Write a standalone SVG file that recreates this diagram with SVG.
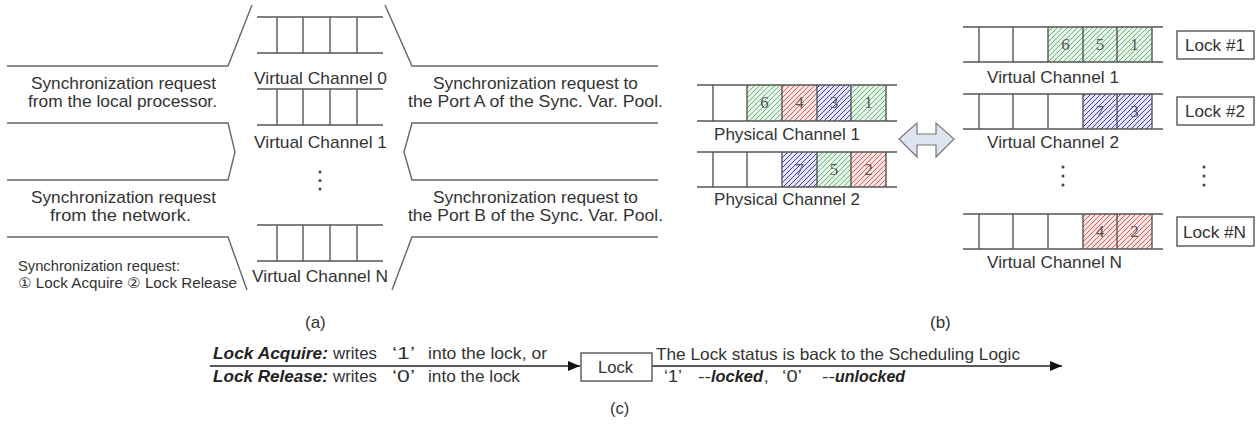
<svg xmlns="http://www.w3.org/2000/svg" width="1258" height="427" viewBox="0 0 1258 427">
<style>
text{font-family:"Liberation Sans",Arial,"DejaVu Sans",sans-serif;fill:#333;font-size:17px}
.sm{font-size:14.5px}
.c{font-size:16.5px}
.bi{font-weight:bold;font-style:italic;fill:#222}
.dg{font-family:"Liberation Serif","Times New Roman",serif;font-size:17px;fill:#555;text-anchor:middle}
.ln{fill:none;stroke:#666;stroke-width:1.4}
.q{stroke:#555;stroke-width:1.4;fill:none}
.box{fill:#fff;stroke:#555;stroke-width:1.4}
.ar{stroke:#222;stroke-width:1.3;fill:none}
.dot{fill:#444}
</style>
<defs>
<pattern id="hg" patternUnits="userSpaceOnUse" width="5" height="5"><rect width="5" height="5" fill="#eaf6ec"/><path d="M-1,1 l2,-2 M0,5 l5,-5 M4,6 l2,-2" stroke="#5fb870" stroke-width="1"/></pattern>
<pattern id="hr" patternUnits="userSpaceOnUse" width="5" height="5"><rect width="5" height="5" fill="#fbe6e6"/><path d="M-1,1 l2,-2 M0,5 l5,-5 M4,6 l2,-2" stroke="#e05555" stroke-width="1"/></pattern>
<pattern id="hb" patternUnits="userSpaceOnUse" width="5" height="5"><rect width="5" height="5" fill="#e8e8fa"/><path d="M-1,1 l2,-2 M0,5 l5,-5 M4,6 l2,-2" stroke="#3a3ac8" stroke-width="1"/></pattern>
<marker id="ah" viewBox="0 0 12 10" refX="12" refY="5" markerWidth="12" markerHeight="10" markerUnits="userSpaceOnUse" orient="auto"><path d="M0,0 L12,5 L0,10 z" fill="#111"/></marker>
</defs>

<!-- (a) guide shapes -->
<g id="a-guides">
<polyline class="ln" points="7,66 228,66 252,5"/>
<polyline class="ln" points="7,123 228,123 235,152 228,180 7,180"/>
<polyline class="ln" points="7,237 228,237 247,290"/>
<polyline class="ln" points="385,5 412,66 658,66"/>
<polyline class="ln" points="658,123 412,123 404,152 412,180 658,180"/>
<polyline class="ln" points="658,237 412,237 392,290"/>
</g>
<g id="a-text">
<text x="31" y="89" textLength="185" lengthAdjust="spacingAndGlyphs">Synchronization request</text>
<text x="28" y="107" textLength="189" lengthAdjust="spacingAndGlyphs">from the local processor.</text>
<text x="31" y="203" textLength="185" lengthAdjust="spacingAndGlyphs">Synchronization request</text>
<text x="50" y="221" textLength="141" lengthAdjust="spacingAndGlyphs">from the network.</text>
<text class="sm" x="18" y="271" textLength="162" lengthAdjust="spacingAndGlyphs">Synchronization request:</text>
<text class="sm" x="18" y="288" textLength="219" lengthAdjust="spacingAndGlyphs">① Lock Acquire  ② Lock Release</text>
<text x="433" y="89" textLength="205" lengthAdjust="spacingAndGlyphs">Synchronization request to</text>
<text x="408" y="107" textLength="255" lengthAdjust="spacingAndGlyphs">the Port A of the Sync. Var. Pool.</text>
<text x="433" y="203" textLength="205" lengthAdjust="spacingAndGlyphs">Synchronization request to</text>
<text x="408" y="221" textLength="255" lengthAdjust="spacingAndGlyphs">the Port B of the Sync. Var. Pool.</text>
<text x="305" y="328">(a)</text>
</g>
<g id="a-vc0">
<path class="q" d="M257,17 H383 M257,53 H383 M277,17 V53 M303,17 V53 M330,17 V53 M357,17 V53"/>
<text x="254" y="84" textLength="133" lengthAdjust="spacingAndGlyphs">Virtual Channel 0</text>
</g>
<g id="a-vc1">
<path class="q" d="M257,89 H383 M257,125 H383 M277,89 V125 M303,89 V125 M330,89 V125 M357,89 V125"/>
<text x="254" y="148" textLength="133" lengthAdjust="spacingAndGlyphs">Virtual Channel 1</text>
</g>
<g id="a-dots"><circle class="dot" cx="320" cy="172" r="1.5"/><circle class="dot" cx="320" cy="180.5" r="1.5"/><circle class="dot" cx="320" cy="189" r="1.5"/></g>
<g id="a-vcn">
<path class="q" d="M257,225 H383 M257,261 H383 M277,225 V261 M303,225 V261 M330,225 V261 M357,225 V261"/>
<text x="252" y="282" textLength="136" lengthAdjust="spacingAndGlyphs">Virtual Channel N</text>
</g>

<!-- (b) -->
<g id="b-pc1">
<rect x="747" y="85" width="35" height="36" fill="url(#hg)"/>
<rect x="782" y="85" width="35" height="36" fill="url(#hr)"/>
<rect x="817" y="85" width="34" height="36" fill="url(#hb)"/>
<rect x="851" y="85" width="35" height="36" fill="url(#hg)"/>
<path class="q" d="M697,85 H897 M697,121 H897 M713,85 V121 M747,85 V121 M782,85 V121 M817,85 V121 M851,85 V121 M886,85 V121"/>
<text class="dg" x="764.5" y="108">6</text><text class="dg" x="799.5" y="108">4</text><text class="dg" x="834" y="108">3</text><text class="dg" x="868.5" y="108">1</text>
<text x="714" y="140" textLength="146" lengthAdjust="spacingAndGlyphs">Physical Channel 1</text>
</g>
<g id="b-pc2">
<rect x="782" y="152" width="35" height="35" fill="url(#hb)"/>
<rect x="817" y="152" width="34" height="35" fill="url(#hg)"/>
<rect x="851" y="152" width="35" height="35" fill="url(#hr)"/>
<path class="q" d="M697,152 H897 M697,187 H897 M713,152 V187 M747,152 V187 M782,152 V187 M817,152 V187 M851,152 V187 M886,152 V187"/>
<text class="dg" x="799.5" y="175">7</text><text class="dg" x="834" y="175">5</text><text class="dg" x="868.5" y="175">2</text>
<text x="714" y="205" textLength="146" lengthAdjust="spacingAndGlyphs">Physical Channel 2</text>
</g>
<g id="b-arrow">
<polygon points="899,139 917,123 917,134 936,134 936,123 954,139 936,157 936,145 917,145 917,157" fill="#dde4ef" stroke="#777" stroke-width="1.2"/>
</g>
<g id="b-vc1">
<rect x="1048" y="27" width="35" height="35" fill="url(#hg)"/>
<rect x="1083" y="27" width="34" height="35" fill="url(#hg)"/>
<rect x="1117" y="27" width="35" height="35" fill="url(#hg)"/>
<path class="q" d="M963,27 H1163 M963,62 H1163 M979,27 V62 M1013,27 V62 M1048,27 V62 M1083,27 V62 M1117,27 V62 M1152,27 V62"/>
<text class="dg" x="1065.5" y="50">6</text><text class="dg" x="1100" y="50">5</text><text class="dg" x="1134.5" y="50">1</text>
<text x="987" y="83" textLength="132" lengthAdjust="spacingAndGlyphs">Virtual Channel 1</text>
</g>
<g id="b-vc2">
<rect x="1083" y="94" width="34" height="35" fill="url(#hb)"/>
<rect x="1117" y="94" width="35" height="35" fill="url(#hb)"/>
<path class="q" d="M963,94 H1163 M963,129 H1163 M979,94 V129 M1013,94 V129 M1048,94 V129 M1083,94 V129 M1117,94 V129 M1152,94 V129"/>
<text class="dg" x="1100" y="117">7</text><text class="dg" x="1134.5" y="117">3</text>
<text x="987" y="148" textLength="132" lengthAdjust="spacingAndGlyphs">Virtual Channel 2</text>
</g>
<g id="b-dots"><circle class="dot" cx="1063" cy="167" r="1.5"/><circle class="dot" cx="1063" cy="176" r="1.5"/><circle class="dot" cx="1063" cy="185" r="1.5"/><circle class="dot" cx="1204" cy="167" r="1.5"/><circle class="dot" cx="1204" cy="176" r="1.5"/><circle class="dot" cx="1204" cy="185" r="1.5"/></g>
<g id="b-vcn">
<rect x="1083" y="214" width="34" height="35" fill="url(#hr)"/>
<rect x="1117" y="214" width="35" height="35" fill="url(#hr)"/>
<path class="q" d="M963,214 H1163 M963,249 H1163 M979,214 V249 M1013,214 V249 M1048,214 V249 M1083,214 V249 M1117,214 V249 M1152,214 V249"/>
<text class="dg" x="1100" y="237">4</text><text class="dg" x="1134.5" y="237">2</text>
<text x="987" y="268" textLength="135" lengthAdjust="spacingAndGlyphs">Virtual Channel N</text>
</g>
<g id="lock1"><rect class="box" x="1177" y="31" width="77" height="28"/><text x="1185" y="51" textLength="60" lengthAdjust="spacingAndGlyphs">Lock #1</text></g>
<g id="lock2"><rect class="box" x="1177" y="97" width="77" height="28"/><text x="1185" y="117" textLength="60" lengthAdjust="spacingAndGlyphs">Lock #2</text></g>
<g id="lockn"><rect class="box" x="1177" y="217" width="77" height="29"/><text x="1183" y="238" textLength="63" lengthAdjust="spacingAndGlyphs">Lock #N</text></g>
<text x="930" y="328">(b)</text>

<!-- (c) -->
<g id="connectors">
<line class="ar" x1="210" y1="366" x2="580" y2="366" marker-end="url(#ah)"/>
<line class="ar" x1="652" y1="366" x2="1062" y2="366" marker-end="url(#ah)"/>
</g>
<g id="c-lock"><rect class="box" x="581" y="353" width="71" height="28"/><text class="c" x="598" y="373" textLength="35" lengthAdjust="spacingAndGlyphs">Lock</text></g>
<g id="c-text">
<text class="c bi" x="213" y="359" textLength="115" lengthAdjust="spacingAndGlyphs">Lock Acquire:</text>
<text class="c" x="333" y="359" textLength="44" lengthAdjust="spacingAndGlyphs">writes</text>
<text class="c" x="392" y="359" textLength="23" lengthAdjust="spacingAndGlyphs">‘1’</text>
<text class="c" x="428" y="359" textLength="119" lengthAdjust="spacingAndGlyphs">into the lock, or</text>
<text class="c bi" x="213" y="382" textLength="115" lengthAdjust="spacingAndGlyphs">Lock Release:</text>
<text class="c" x="333" y="382" textLength="44" lengthAdjust="spacingAndGlyphs">writes</text>
<text class="c" x="392" y="382" textLength="23" lengthAdjust="spacingAndGlyphs">‘0’</text>
<text class="c" x="428" y="382" textLength="92" lengthAdjust="spacingAndGlyphs">into the lock</text>
<text class="c" x="656" y="360" textLength="364" lengthAdjust="spacingAndGlyphs">The Lock status is back to the Scheduling Logic</text>
<text class="c" x="664" y="382" textLength="18" lengthAdjust="spacingAndGlyphs">‘1’</text>
<text class="c" x="698" y="382" textLength="13" lengthAdjust="spacingAndGlyphs">--</text>
<text class="c bi" x="711" y="382" textLength="52" lengthAdjust="spacingAndGlyphs">locked</text>
<text class="c" x="764" y="382">,</text>
<text class="c" x="782" y="382" textLength="20" lengthAdjust="spacingAndGlyphs">‘0’</text>
<text class="c" x="822" y="382" textLength="13" lengthAdjust="spacingAndGlyphs">--</text>
<text class="c bi" x="835" y="382" textLength="70" lengthAdjust="spacingAndGlyphs">unlocked</text>
<text class="c" x="610" y="414">(c)</text>
</g>
</svg>
